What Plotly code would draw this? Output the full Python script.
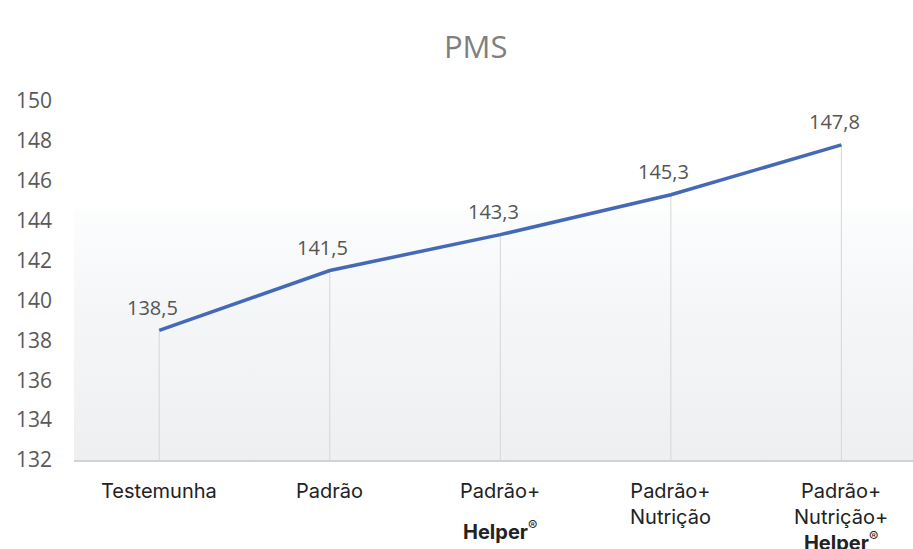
import plotly.graph_objects as go

# PMS por tratamento
categorias = ["Testemunha", "Padrão", "Padrão+ Helper®", "Padrão+ Nutrição", "Padrão+ Nutrição+ Helper®"]
rotulos_x = [
  "Testemunha",
  "Padrão",
  "Padrão+",
  "Padrão+<br>Nutrição",
  "Padrão+<br>Nutrição+<br><b>Helper</b><sup>®</sup>",
]
pms = [138.5, 141.5, 143.3, 145.3, 147.8]
y_ticks = [132, 134, 136, 138, 140, 142, 144, 146, 148, 150]

x_pos = list(range(len(categorias)))
x_range = [-0.5, 4.42]
y_min, y_max = 132, 150

fig = go.Figure()

# background gradient band (lower part of plot area)
fig.add_trace(go.Scatter(
  x=[x_range[0], x_range[1], x_range[1], x_range[0], x_range[0]],
  y=[y_min, y_min, 144.6, 144.6, y_min],
  fill="toself", mode="none", hoverinfo="skip", showlegend=False,
  fillgradient=dict(type="vertical", colorscale=[[0, "#eeeff1"], [0.6, "#f4f6f8"], [1, "#fcfdfd"]]),
))

# drop lines from each point to the axis
drop_x, drop_y = [], []
for xi, v in zip(x_pos, pms):
  drop_x += [xi, xi, None]
  drop_y += [y_min, v, None]
fig.add_trace(go.Scatter(
  x=drop_x, y=drop_y, mode="lines", hoverinfo="skip", showlegend=False,
  line=dict(color="#d6d6d6", width=1),
))

fig.add_trace(go.Scatter(
  x=x_pos, y=pms, mode="lines", showlegend=False,
  line=dict(color="#4469b6", width=3.5),
))

# data labels
for xi, v in zip(x_pos, pms):
  fig.add_annotation(
    x=xi, y=v, xref="x", yref="y", showarrow=False,
    text=f"{v:.1f}".replace(".", ","), xshift=-7, yshift=23,
    font=dict(family="Open Sans", size=20, color="#555555"),
  )

# x category labels
for xi, lab in zip(x_pos, rotulos_x):
  fig.add_annotation(
    x=xi, y=0, xref="x", yref="paper", yanchor="top", yshift=-17,
    text=lab, showarrow=False, align="center",
    font=dict(family="Inter", size=20, color="#222222"),
  )
fig.add_annotation(
  x=x_pos[2], y=0, xref="x", yref="paper", yanchor="top", yshift=-55,
  text="<b>Helper</b><sup>®</sup>", showarrow=False, align="center",
  font=dict(family="Inter", size=20, color="#222222"),
)

fig.update_layout(
  width=913, height=549,
  margin=dict(l=74, r=0, t=101, b=89),
  plot_bgcolor="white", paper_bgcolor="white",
  title=dict(text="PMS", x=0.521, xanchor="center", y=0.915, yanchor="middle",
             font=dict(family="Open Sans", size=31, color="#7f7f7f")),
  xaxis=dict(range=x_range, showticklabels=False, showgrid=False, zeroline=False,
             showline=True, linecolor="#d3d3d3", linewidth=1.5),
  yaxis=dict(range=[y_min, y_max], tickvals=y_ticks, showgrid=False, zeroline=False,
             ticklabelstandoff=21,
             tickfont=dict(family="Open Sans", size=21, color="#595959")),
)

fig.write_html("out.html", config={"displayModeBar": False},
               post_script="document.body.style.margin='0';")
